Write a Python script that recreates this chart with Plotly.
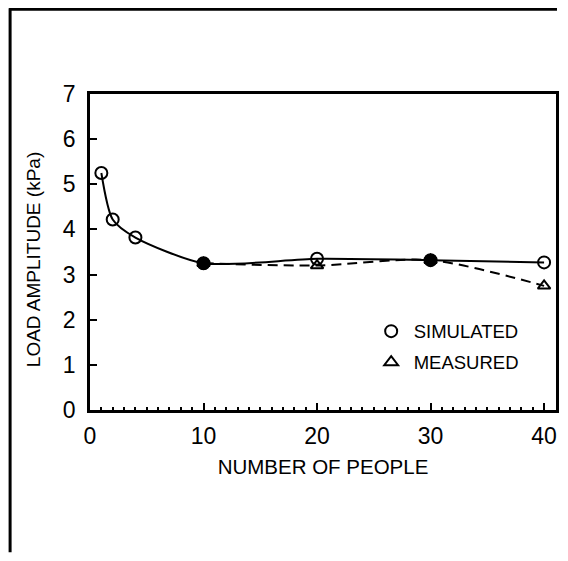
import plotly.graph_objects as go

# Data
sim_x = [1, 2, 4, 10, 20, 30, 40]
sim_y = [5.25, 4.22, 3.82, 3.25, 3.35, 3.32, 3.27]
meas_x = [10, 20, 30, 40]
meas_y = [3.25, 3.20, 3.32, 2.75]
coincident_x = [10, 30]
coincident_y = [3.25, 3.32]

x_ticks = [0, 10, 20, 30, 40]
y_ticks = [0, 1, 2, 3, 4, 5, 6, 7]

FONT = "Liberation Sans"
W, H = 552, 545
L, R, T, B = 81.5, 1, 86, 142.5

fig = go.Figure()

# measured dashed smooth line
fig.add_trace(go.Scatter(
    x=meas_x, y=meas_y, mode="lines+markers",
    line=dict(color="black", width=2, dash="10px,6px", shape="spline", smoothing=0.8),
    marker=dict(symbol="triangle-up-open", size=11, color="black", line=dict(width=2)),
    showlegend=False, cliponaxis=False))

# simulated solid smooth line
fig.add_trace(go.Scatter(
    x=sim_x, y=sim_y, mode="lines+markers",
    line=dict(color="black", width=2, shape="spline", smoothing=0.7),
    marker=dict(symbol="circle-open", size=12, color="black", line=dict(width=2)),
    showlegend=False, cliponaxis=False))

# coincident points drawn filled
fig.add_trace(go.Scatter(
    x=coincident_x, y=coincident_y, mode="markers",
    marker=dict(symbol="circle", size=13, color="black"),
    showlegend=False, cliponaxis=False))

# legend entries (markers only)
fig.add_trace(go.Scatter(
    x=[None], y=[None], mode="markers", name="SIMULATED", legendgroup="a",
    marker=dict(symbol="circle-open", size=11, color="black", line=dict(width=2))))
fig.add_trace(go.Scatter(
    x=[None], y=[None], mode="markers", name="MEASURED", legendgroup="b",
    marker=dict(symbol="triangle-up-open", size=10, color="black", line=dict(width=2))))

W_plot = W - L - R
H_plot = H - T - B
def px(fx):
    return (fx - L) / W_plot
def py(fy):
    return (H - B - fy) / H_plot

fig.update_layout(
    width=W, height=H,
    margin=dict(l=L, r=R, t=T, b=B),
    paper_bgcolor="white", plot_bgcolor="white",
    font=dict(family=FONT, color="black"),
    legend=dict(x=0.598, y=0.199, xanchor="left", yanchor="middle",
                bgcolor="rgba(0,0,0,0)", font=dict(size=18.5, family=FONT),
                itemsizing="constant", tracegroupgap=4, itemwidth=35),
    xaxis=dict(range=[0, 41.05], tickvals=x_ticks, ticks="inside", ticklen=7,
               tickwidth=2, tickcolor="black",
               showline=True, linecolor="black", linewidth=2.5, mirror=True,
               showgrid=False, zeroline=False, ticklabelstandoff=4,
               tickfont=dict(size=23, family=FONT),
               minor=dict(dtick=1, ticks="inside", ticklen=3, tickwidth=1.5, tickcolor="black"),
               title=dict(text="NUMBER OF PEOPLE", font=dict(size=20.5, family=FONT), standoff=12)),
    yaxis=dict(range=[0, 7], tickvals=y_ticks, ticks="inside", ticklen=7,
               tickwidth=2, tickcolor="black",
               showline=True, linecolor="black", linewidth=2.5, mirror=True,
               showgrid=False, zeroline=False, ticklabelstandoff=7,
               tickfont=dict(size=23, family=FONT)),
    annotations=[
        dict(text="LOAD AMPLITUDE (kPa)", textangle=-90, xref="paper", yref="paper",
             x=px(24.5), y=py(252), xanchor="center", yanchor="middle", showarrow=False,
             font=dict(size=19, family=FONT)),
    ],
    shapes=[
        dict(type="line", xref="paper", yref="paper", x0=px(1), x1=px(1), y0=py(0), y1=py(H),
             line=dict(color="black", width=3)),
        dict(type="line", xref="paper", yref="paper", x0=px(0), x1=px(W), y0=py(1), y1=py(1),
             line=dict(color="black", width=3)),
    ],
)

fig.write_html("out.html")
